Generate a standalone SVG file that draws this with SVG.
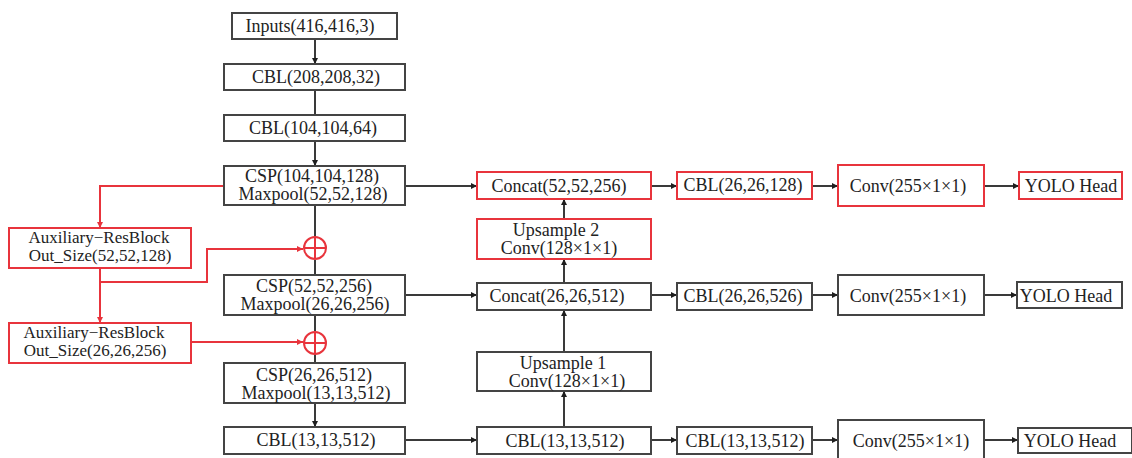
<svg xmlns="http://www.w3.org/2000/svg" width="1132" height="458" viewBox="0 0 1132 458">
<defs>
<marker id="ah" viewBox="0 0 10 10" refX="10" refY="5" markerWidth="6" markerHeight="6" orient="auto" markerUnits="userSpaceOnUse"><path d="M0,0 L10,5 L0,10 z" fill="#1e1e1e"/></marker>
<marker id="ahr" viewBox="0 0 10 10" refX="10" refY="5" markerWidth="6" markerHeight="6" orient="auto" markerUnits="userSpaceOnUse"><path d="M0,0 L10,5 L0,10 z" fill="#e8343c"/></marker>
<style>
rect.b{fill:#fff;stroke:#444;stroke-width:2}
rect.r{fill:#fff;stroke:#e8343c;stroke-width:2}
text{font-family:"Liberation Serif","Times New Roman",serif;font-size:18px;fill:#222;text-anchor:middle}
text.s{font-size:17px}
.c path,.c line{fill:none;stroke:#3a3a3a;stroke-width:2}
.c .red{stroke:#e8343c}
.add circle,.add line{fill:none;stroke:#e8343c;stroke-width:2}
</style>
</defs>
<rect width="1132" height="458" fill="#fff"/>
<g class="c" id="connectors">
<line x1="315" y1="39" x2="315" y2="64" marker-end="url(#ah)"/>
<line x1="315" y1="90" x2="315" y2="115"/>
<line x1="315" y1="141" x2="315" y2="166" marker-end="url(#ah)"/>
<line x1="315" y1="205" x2="315" y2="237"/>
<line x1="315" y1="260" x2="315" y2="275"/>
<line x1="315" y1="315" x2="315" y2="331"/>
<line x1="315" y1="354" x2="315" y2="363"/>
<line x1="315" y1="403" x2="315" y2="427" marker-end="url(#ah)"/>
<line x1="405" y1="186" x2="477" y2="186" marker-end="url(#ah)"/>
<line x1="405" y1="295" x2="477" y2="295" marker-end="url(#ah)"/>
<line x1="405" y1="440" x2="477" y2="440" marker-end="url(#ah)"/>
<line x1="564" y1="427" x2="564" y2="391" marker-end="url(#ah)"/>
<line x1="564" y1="352" x2="564" y2="310" marker-end="url(#ah)"/>
<line x1="564" y1="283" x2="564" y2="259" marker-end="url(#ah)"/>
<line x1="564" y1="219" x2="564" y2="199" marker-end="url(#ah)"/>
<line x1="651" y1="186" x2="677" y2="186" marker-end="url(#ah)"/>
<line x1="812" y1="186" x2="838" y2="186" marker-end="url(#ah)"/>
<line x1="984" y1="186" x2="1019" y2="186" marker-end="url(#ah)"/>
<line x1="651" y1="295" x2="677" y2="295" marker-end="url(#ah)"/>
<line x1="812" y1="295" x2="838" y2="295" marker-end="url(#ah)"/>
<line x1="984" y1="295" x2="1017" y2="295" marker-end="url(#ah)"/>
<line x1="651" y1="440" x2="677" y2="440" marker-end="url(#ah)"/>
<line x1="812" y1="440" x2="838" y2="440" marker-end="url(#ah)"/>
<line x1="984" y1="440" x2="1018" y2="440" marker-end="url(#ah)"/>
<path class="red" d="M224,186 H100 V228" marker-end="url(#ahr)"/>
<path class="red" d="M100,268 V323" marker-end="url(#ahr)"/>
<path class="red" d="M100,282 H207 V249 H303" marker-end="url(#ahr)"/>
<path class="red" d="M191,342 H303" marker-end="url(#ahr)"/>
</g>
<g id="add1" class="add"><circle cx="315" cy="248" r="11"/><line x1="304" y1="248" x2="326" y2="248"/><line x1="315" y1="237" x2="315" y2="259"/></g>
<g id="add2" class="add"><circle cx="315" cy="343" r="11"/><line x1="304" y1="343" x2="326" y2="343"/><line x1="315" y1="332" x2="315" y2="354"/></g>
<g id="inputs"><rect class="b" x="232" y="13" width="165" height="26"/><text x="310" y="32">Inputs(416,416,3)</text></g>
<g id="cbl1"><rect class="b" x="224" y="64" width="181" height="26"/><text x="316" y="83">CBL(208,208,32)</text></g>
<g id="cbl2"><rect class="b" x="224" y="115" width="181" height="26"/><text x="313" y="134">CBL(104,104,64)</text></g>
<g id="csp1"><rect class="b" x="224" y="166" width="181" height="39"/><text x="312" y="182">CSP(104,104,128)</text><text x="313" y="200">Maxpool(52,52,128)</text></g>
<g id="csp2"><rect class="b" x="224" y="275" width="181" height="40"/><text x="314" y="292">CSP(52,52,256)</text><text x="315" y="310">Maxpool(26,26,256)</text></g>
<g id="csp3"><rect class="b" x="224" y="363" width="181" height="40"/><text x="314" y="381">CSP(26,26,512)</text><text x="316" y="399">Maxpool(13,13,512)</text></g>
<g id="cbl3"><rect class="b" x="224" y="427" width="181" height="27"/><text x="316" y="446">CBL(13,13,512)</text></g>
<g id="aux1"><rect class="r" x="9" y="228" width="182" height="40"/><text class="s" x="99" y="243">Auxiliary−ResBlock</text><text class="s" x="100" y="261">Out_Size(52,52,128)</text></g>
<g id="aux2"><rect class="r" x="9" y="323" width="182" height="40"/><text class="s" x="94" y="338">Auxiliary−ResBlock</text><text class="s" x="95" y="356">Out_Size(26,26,256)</text></g>
<g id="concat1"><rect class="r" x="477" y="172" width="174" height="27"/><text x="559" y="192">Concat(52,52,256)</text></g>
<g id="up2"><rect class="r" x="477" y="219" width="174" height="40"/><text x="556" y="236">Upsample 2</text><text x="559" y="254">Conv(128×1×1)</text></g>
<g id="concat2"><rect class="b" x="477" y="283" width="174" height="27"/><text x="557" y="302">Concat(26,26,512)</text></g>
<g id="up1"><rect class="b" x="477" y="352" width="174" height="39"/><text x="563" y="369">Upsample 1</text><text x="567" y="387">Conv(128×1×1)</text></g>
<g id="cbl4"><rect class="b" x="477" y="427" width="174" height="27"/><text x="565" y="447">CBL(13,13,512)</text></g>
<g id="cbl5"><rect class="r" x="677" y="172" width="135" height="27"/><text x="743" y="191">CBL(26,26,128)</text></g>
<g id="cbl6"><rect class="b" x="677" y="283" width="135" height="27"/><text x="743" y="302">CBL(26,26,526)</text></g>
<g id="cbl7"><rect class="b" x="677" y="427" width="135" height="27"/><text x="745" y="447">CBL(13,13,512)</text></g>
<g id="conv1"><rect class="r" x="838" y="165" width="146" height="41"/><text x="908" y="192">Conv(255×1×1)</text></g>
<g id="conv2"><rect class="b" x="838" y="275" width="146" height="40"/><text x="908" y="302">Conv(255×1×1)</text></g>
<g id="conv3"><rect class="b" x="838" y="420" width="146" height="42"/><text x="911" y="447">Conv(255×1×1)</text></g>
<g id="yolo1"><rect class="r" x="1019" y="172" width="103" height="27"/><text x="1071" y="192">YOLO Head</text></g>
<g id="yolo2"><rect class="b" x="1017" y="282" width="105" height="26"/><text x="1066" y="302">YOLO Head</text></g>
<g id="yolo3"><rect class="b" x="1018" y="428" width="114" height="25"/><text x="1070" y="447">YOLO Head</text></g>
</svg>
